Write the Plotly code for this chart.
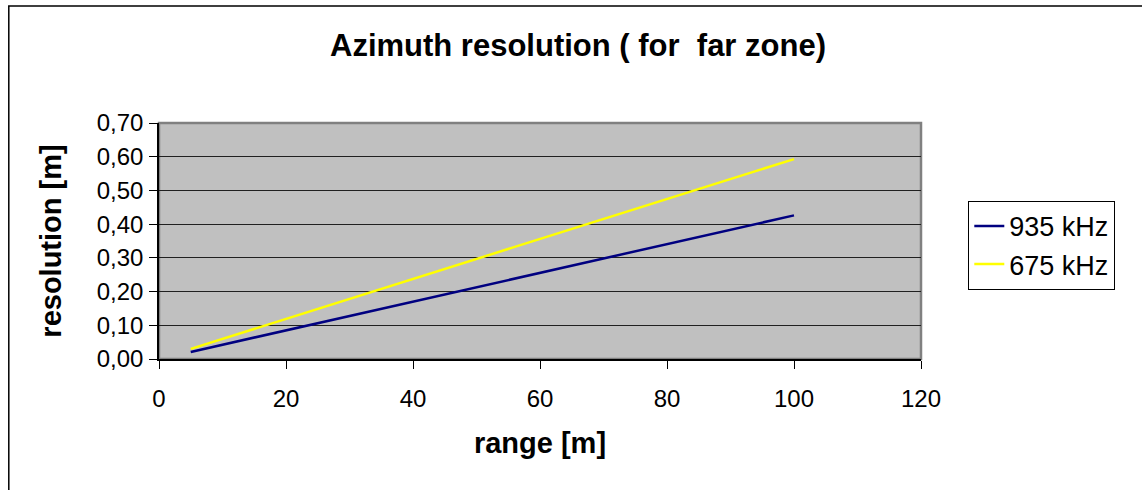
import plotly.graph_objects as go

range_m = [5, 20, 40, 60, 80, 100]
res_935 = [0.021, 0.085, 0.170, 0.256, 0.341, 0.426]
res_675 = [0.030, 0.119, 0.237, 0.356, 0.474, 0.593]
series_names = ["935 kHz", "675 kHz"]
series_colors = ["#000080", "#FFFF00"]
x_ticks = [0, 20, 40, 60, 80, 100, 120]
y_ticks = [0, 0.1, 0.2, 0.3, 0.4, 0.5, 0.6, 0.7]

W, H = 1142, 490
L, R, T, B = 158.7, 920.7, 123.3, 358.7
pw, ph = R - L, B - T

def px(x):
    return (x - L) / pw

def py(y):
    return (B - y) / ph

fig = go.Figure()
for name, ys, c in zip(series_names, [res_935, res_675], series_colors):
    fig.add_trace(go.Scatter(x=range_m, y=ys, mode="lines", name=name,
                             line=dict(color=c, width=2.5)))

font = "Liberation Sans, Arial, sans-serif"
fig.update_layout(
    width=W, height=H,
    margin=dict(l=L, r=W - R, t=T, b=H - B),
    paper_bgcolor="white", plot_bgcolor="#C0C0C0",
    separators=", ",
    font=dict(family=font, size=24, color="black"),
    title=dict(text="<b>Azimuth resolution ( for  far zone)</b>", x=578 / W, xanchor="center",
               y=1 - 45 / H, yanchor="middle", font=dict(size=31)),
    xaxis=dict(range=[0, 120], tickvals=x_ticks, showgrid=False, zeroline=False,
               showline=True, linecolor="black", linewidth=1.5,
               ticks="outside", ticklen=8, tickcolor="black", ticklabelstandoff=9,
               title=dict(text="<b>range [m]</b>", font=dict(size=29), standoff=22)),
    yaxis=dict(range=[0, 0.7], tickvals=y_ticks, tickformat=".2f",
               showgrid=True, gridcolor="#202020", gridwidth=1, zeroline=False,
               showline=True, linecolor="black", linewidth=1.5,
               ticks="outside", ticklen=8, tickcolor="black", ticklabelstandoff=1,
               title=dict(text="<b>resolution [m]</b>", font=dict(size=29), standoff=27)),
    legend=dict(x=px(968), xanchor="left", y=py(201), yanchor="top",
                bgcolor="white", bordercolor="black", borderwidth=1,
                font=dict(size=27), tracegroupgap=0,
                entrywidth=125, entrywidthmode="pixels"),
    shapes=[
        dict(type="rect", xref="paper", yref="paper", x0=0, x1=1, y0=0, y1=1,
             line=dict(color="#808080", width=2.5), layer="below"),
        dict(type="rect", xref="paper", yref="paper", x0=px(8.5), x1=px(1200),
             y0=py(600), y1=py(6.5), line=dict(color="black", width=1.5)),
    ],
)
fig.write_html("out.html", config={"displayModeBar": False},
               post_script="document.body.style.margin='0';")
